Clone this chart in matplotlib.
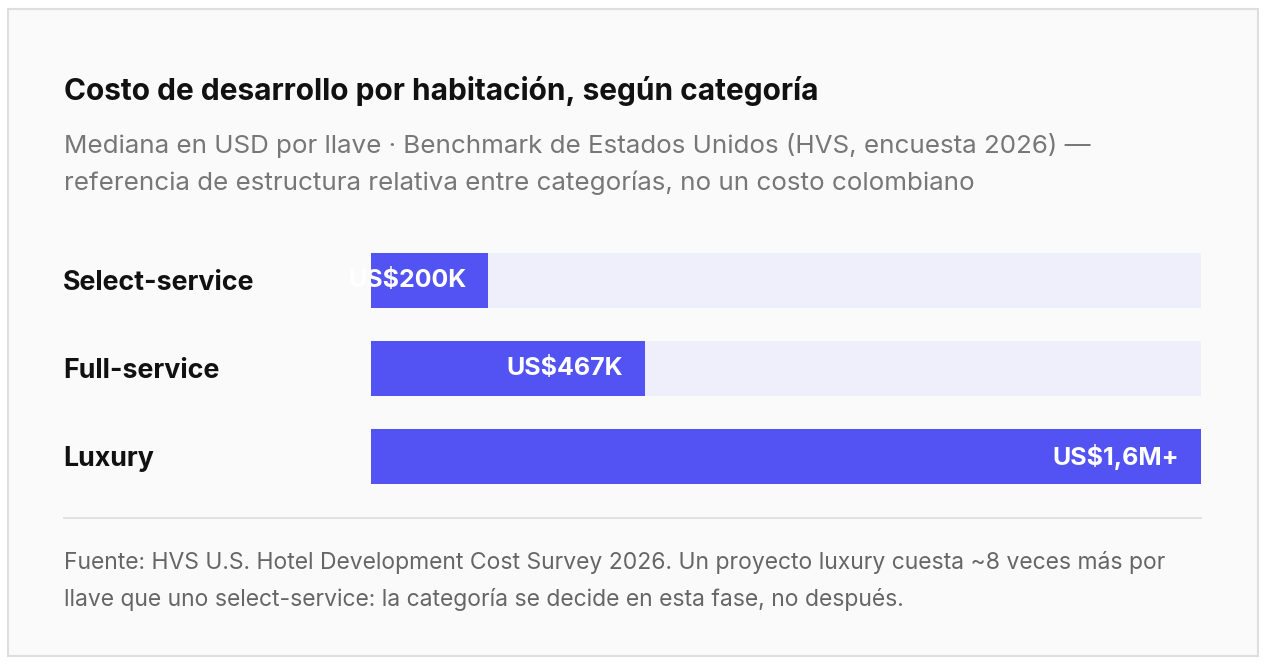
import matplotlib
matplotlib.use("Agg")
import matplotlib.pyplot as plt
from matplotlib.patches import Rectangle

categories = ["Select-service", "Full-service", "Luxury"]
values = [200, 467, 1600]  # miles de USD por llave
value_labels = ["US$200K", "US$467K", "US$1,6M+"]

title = "Costo de desarrollo por habitación, según categoría"
subtitle = ("Mediana en USD por llave · Benchmark de Estados Unidos (HVS, encuesta 2026) —\n"
            "referencia de estructura relativa entre categorías, no un costo colombiano")
footnote = ("Fuente: HVS U.S. Hotel Development Cost Survey 2026. Un proyecto luxury cuesta ~8 veces más por\n"
            "llave que uno select-service: la categoría se decide en esta fase, no después.")

W, H = 1270, 666
DPI = 100
BAR = "#5353f3"
TRACK = "#efeffc"
plt.rcParams['font.family'] = ['Inter', 'DejaVu Sans']

fig = plt.figure(figsize=(W / DPI, H / DPI), dpi=DPI)
fig.patch.set_facecolor("white")

def fx(x):
    return x / W
def fy(y):
    return 1 - y / H

# card
card = Rectangle((fx(8), fy(656)), (1258 - 8) / W, (656 - 9) / H,
                 transform=fig.transFigure, facecolor="#fafafa",
                 edgecolor="#dedede", linewidth=1.5, zorder=-10)
fig.patches.append(card)

fig.text(fx(64), fy(91), title, fontsize=21.5, fontweight="bold", color="#111111",
         va="center", ha="left")
fig.text(fx(64), fy(164), subtitle, fontsize=18.7, color="#777777", va="center",
         ha="left", linespacing=1.68)

# bars
x0, x1 = 371, 1201
ytop, ybot = 253, 484
ax = fig.add_axes([fx(x0), fy(ybot), (x1 - x0) / W, (ybot - ytop) / H])
ax.set_zorder(5)
ax.patch.set_visible(False)
xmax = 1415
ax.set_xlim(0, xmax)
h = 55 / 88
ax.set_ylim(2 + h / 2, -h / 2)
pos = list(range(len(categories)))
ax.barh(pos, [xmax] * len(pos), height=h, color=TRACK, zorder=1)
ax.barh(pos, values, height=h, color=BAR, zorder=2)
for p, v, lab in zip(pos, values, value_labels):
    ax.annotate(lab, xy=(min(v, xmax), p), xytext=(-15.5, 0), textcoords="offset points",
                ha="right", va="center", color="white", fontsize=18,
                fontweight="bold", zorder=3, annotation_clip=False)
ax.set_yticks(pos)
ax.set_yticklabels(categories)
for t in ax.get_yticklabels():
    t.set_fontsize(19.3)
    t.set_fontweight("bold")
    t.set_color("#111111")
    t.set_horizontalalignment("left")
ax.tick_params(axis="y", length=0, pad=(x0 - 63) * 0.72)
ax.set_xticks([])
for s in ax.spines.values():
    s.set_visible(False)

# separator
fig.add_artist(plt.Line2D([fx(64), fx(1201)], [fy(518), fy(518)], transform=fig.transFigure,
                          color="#dddddd", linewidth=1.2))

fig.text(fx(64), fy(581), footnote, fontsize=16.5, color="#666666", va="center",
         ha="left", linespacing=1.78)

fig.savefig("out.png", dpi=DPI, facecolor=fig.get_facecolor())
